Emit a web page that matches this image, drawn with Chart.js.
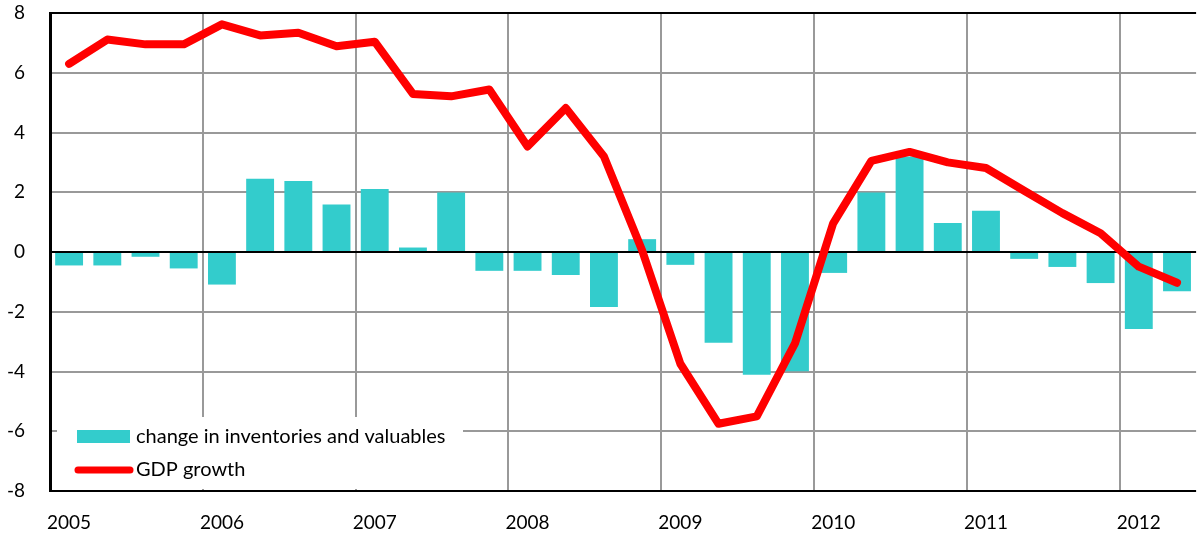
<!DOCTYPE html>
<html>
<head>
<meta charset="utf-8">
<script src="https://cdn.jsdelivr.net/npm/chart.js@4/dist/chart.umd.min.js"></script>
<style>
  body { margin: 0; background: #fff; }
</style>
</head>
<body>
<canvas id="gdpChart" width="1197" height="534"></canvas>
<script>
const quarters = [
  '2005Q1', '2005Q2', '2005Q3', '2005Q4',
  '2006Q1', '2006Q2', '2006Q3', '2006Q4',
  '2007Q1', '2007Q2', '2007Q3', '2007Q4',
  '2008Q1', '2008Q2', '2008Q3', '2008Q4',
  '2009Q1', '2009Q2', '2009Q3', '2009Q4',
  '2010Q1', '2010Q2', '2010Q3', '2010Q4',
  '2011Q1', '2011Q2', '2011Q3', '2011Q4',
  '2012Q1', '2012Q2'
];

const inventories = [
  -0.45, -0.45, -0.16, -0.55,
  -1.09, 2.45, 2.38, 1.59,
  2.11, 0.15, 1.99, -0.63,
  -0.63, -0.77, -1.84, 0.43,
  -0.43, -3.04, -4.11, -3.99,
  -0.70, 1.99, 3.20, 0.97,
  1.38, -0.23, -0.50, -1.04,
  -2.58, -1.31
];

const gdpGrowth = [
  6.30, 7.11, 6.95, 6.95,
  7.62, 7.25, 7.34, 6.89,
  7.04, 5.29, 5.21, 5.44,
  3.53, 4.82, 3.20, 0.05,
  -3.74, -5.75, -5.50, -3.06,
  0.96, 3.05, 3.35, 3.00,
  2.81, 2.05, 1.30, 0.63,
  -0.49, -1.03
];

const yTicks = [-8, -6, -4, -2, 0, 2, 4, 6, 8];

const FONT = 'Lato';
const GRID = '#999999';

// legend drawn inside the plot, bottom left, on a white box
const insideLegend = {
  id: 'insideLegend',
  afterDraw(chart) {
    const ctx = chart.ctx;
    const a = chart.chartArea;
    const bars = chart.data.datasets.find(d => d.type === 'bar');
    const line = chart.data.datasets.find(d => d.type === 'line');
    ctx.save();
    ctx.fillStyle = '#ffffff';
    ctx.fillRect(a.left + 7, a.bottom - 74, 406, 72);

    ctx.fillStyle = bars.backgroundColor;
    ctx.fillRect(a.left + 27, a.bottom - 61, 53, 13);

    ctx.strokeStyle = line.borderColor;
    ctx.lineWidth = 7;
    ctx.lineCap = 'round';
    ctx.beginPath();
    ctx.moveTo(a.left + 28, a.bottom - 21);
    ctx.lineTo(a.left + 80, a.bottom - 21);
    ctx.stroke();

    ctx.fillStyle = '#000';
    ctx.font = '20px ' + FONT;
    ctx.textBaseline = 'middle';
    ctx.textAlign = 'left';
    ctx.fillText(bars.label, a.left + 86, a.bottom - 54);
    ctx.fillText(line.label, a.left + 86, a.bottom - 21);
    ctx.restore();
  }
};

const ctx = document.getElementById('gdpChart').getContext('2d');

new Chart(ctx, {
  data: {
    labels: quarters,
    datasets: [
      {
        type: 'line',
        label: 'GDP growth',
        data: gdpGrowth,
        borderColor: '#ff0000',
        borderWidth: 8,
        borderCapStyle: 'round',
        borderJoinStyle: 'round',
        pointRadius: 0,
        tension: 0,
        order: 1
      },
      {
        type: 'bar',
        label: 'change in inventories and valuables',
        data: inventories,
        backgroundColor: '#33cccc',
        categoryPercentage: 1,
        barPercentage: 0.73,
        order: 2
      }
    ]
  },
  options: {
    responsive: false,
    animation: false,
    layout: { padding: { top: 13, right: 0, left: 0, bottom: 0 } },
    plugins: {
      legend: { display: false },
      tooltip: { enabled: false }
    },
    scales: {
      x: {
        offset: true,
        grid: {
          offset: true,
          drawTicks: false,
          lineWidth: 2,
          color: (c) => (c.index !== undefined && c.index > 0 && c.index % 4 === 0) ? GRID : 'rgba(0,0,0,0)'
        },
        border: { display: false },
        ticks: {
          autoSkip: false,
          maxRotation: 0,
          padding: 20,
          color: '#000',
          font: { family: FONT, size: 19 },
          callback: function (value, index) {
            const q = quarters[index];
            return q.endsWith('Q1') ? q.slice(0, 4) : '';
          }
        },
        afterFit: (scale) => { scale.height = 43; }
      },
      y: {
        min: -8,
        max: 8,
        afterBuildTicks: (scale) => { scale.ticks = yTicks.map(v => ({ value: v })); },
        grid: {
          drawTicks: false,
          lineWidth: 2,
          color: (c) => (c.tick && (c.tick.value === 0 || Math.abs(c.tick.value) === 8)) ? '#000' : GRID
        },
        border: { display: true, color: '#000', width: 3 },
        ticks: {
          padding: 25,
          color: '#000',
          font: { family: FONT, size: 19 }
        },
        afterFit: (scale) => {
          scale.width = 50;
          scale.paddingTop = 10;
          scale.paddingBottom = 10;
        }
      }
    }
  },
  plugins: [insideLegend]
});
</script>
</body>
</html>
